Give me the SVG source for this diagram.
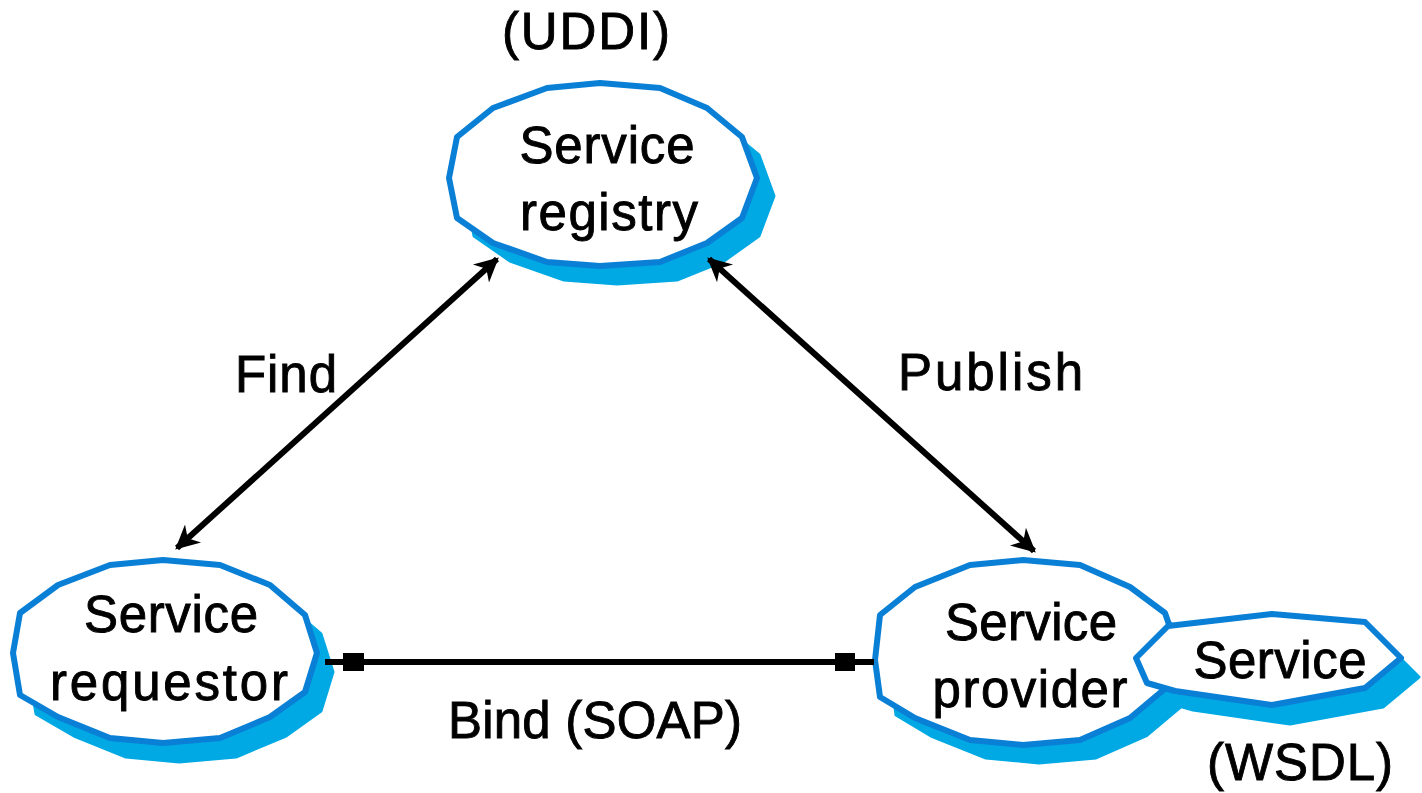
<svg xmlns="http://www.w3.org/2000/svg" xmlns:xlink="http://www.w3.org/1999/xlink" width="1422" height="793" viewBox="0 0 1422 793">
  <style>
    .outline { fill: #ffffff; stroke: #0A7FD6; stroke-width: 6; stroke-linejoin: round; }
    .shadow { fill: #00A9E3; stroke: #00A9E3; stroke-width: 3; stroke-linejoin: round; }
    .label { font-family: "Liberation Sans", Arial, sans-serif; font-size: 51px; fill: #000000; stroke: #000000; stroke-width: 0.9; }
    .mid { text-anchor: middle; }
    .link { stroke: #000000; stroke-width: 6; fill: none; }
    .block { fill: #000000; }
  </style>
  <defs>
    <marker id="head" viewBox="0 0 10 10" refX="9" refY="5" markerUnits="userSpaceOnUse" markerWidth="26" markerHeight="24" orient="auto-start-reverse">
      <path d="M0,0 L10,5 L0,10 L3,5 z" fill="#000000"/>
    </marker>
    <polygon id="shape-registry" points="449,178 457,137 493,108 547,88 600,83 660,88 707,108 742,137 757,178 742,218 707,243 660,262 600,266 547,262 493,243 457,218"/>
    <polygon id="shape-requestor" points="13,653 20,613 58,585 110,565 163,560 220,565 270,585 305,615 317,653 305,692 270,717 220,738 163,743 110,738 58,717 20,695"/>
    <polygon id="shape-provider" points="875,660 880,615 915,587 970,565 1023,560 1080,565 1130,587 1165,613 1178,650 1167,687 1130,718 1080,740 1023,745 970,740 915,718 880,697"/>
    <polygon id="shape-service" points="1136,658 1168,626 1272,614 1365,622 1401,658 1365,688 1272,705 1175,691 1147,683"/>
  </defs>

  <rect width="1422" height="793" fill="#ffffff"/>

  <!-- registry node -->
  <g id="node-registry">
    <use xlink:href="#shape-registry" class="shadow" transform="translate(17,18)"/>
    <use xlink:href="#shape-registry" class="outline"/>
    <text class="label mid" x="607" y="163" textLength="175" lengthAdjust="spacing">Service</text>
    <text class="label mid" x="609" y="230" textLength="178" lengthAdjust="spacing">registry</text>
    <text class="label mid" x="586" y="49" textLength="168" lengthAdjust="spacing">(UDDI)</text>
  </g>

  <!-- requestor node -->
  <g id="node-requestor">
    <use xlink:href="#shape-requestor" class="shadow" transform="translate(16,19)"/>
    <use xlink:href="#shape-requestor" class="outline"/>
    <text class="label mid" x="171" y="632" textLength="174" lengthAdjust="spacing">Service</text>
    <text class="label mid" x="169" y="700" textLength="238" lengthAdjust="spacing">requestor</text>
  </g>

  <!-- provider node with its attached service -->
  <g id="node-provider">
    <use xlink:href="#shape-provider" class="shadow" transform="translate(16,18)"/>
    <use xlink:href="#shape-service" class="shadow" transform="translate(18,19)"/>
    <use xlink:href="#shape-provider" class="outline"/>
    <text class="label mid" x="1031" y="640" textLength="172" lengthAdjust="spacing">Service</text>
    <text class="label mid" x="1030" y="707" textLength="195" lengthAdjust="spacing">provider</text>
  </g>
  <g id="node-service">
    <use xlink:href="#shape-service" class="outline"/>
    <text class="label mid" x="1280" y="678" textLength="173" lengthAdjust="spacing">Service</text>
    <text class="label" x="1207" y="780" textLength="186" lengthAdjust="spacing">(WSDL)</text>
  </g>

  <!-- connectors -->
  <g id="connectors">
    <line class="link" x1="177" y1="548" x2="497" y2="259" marker-start="url(#head)" marker-end="url(#head)"/>
    <line class="link" x1="709" y1="259" x2="1034" y2="551" marker-start="url(#head)" marker-end="url(#head)"/>
    <line class="link" x1="325" y1="662" x2="874" y2="662"/>
    <rect class="block" x="343" y="653" width="21" height="18"/>
    <rect class="block" x="835" y="653" width="20" height="18"/>
    <text class="label" x="235" y="392" textLength="102" lengthAdjust="spacing">Find</text>
    <text class="label" x="898" y="390" textLength="185" lengthAdjust="spacing">Publish</text>
    <text class="label" x="448" y="738" textLength="294" lengthAdjust="spacing">Bind (SOAP)</text>
  </g>
</svg>
